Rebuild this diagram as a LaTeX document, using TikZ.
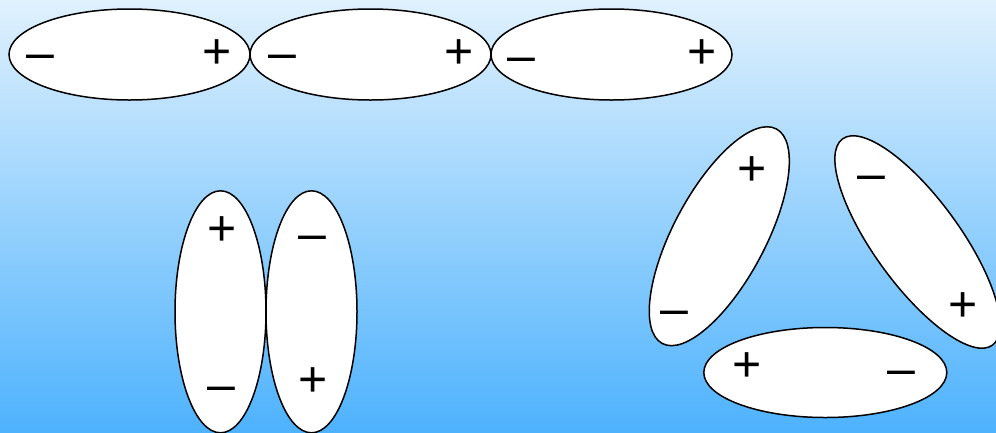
\documentclass[tikz,border=0pt]{standalone}
\usepackage{fontspec}
\setmainfont{Liberation Sans}
\usepackage{tikz}
\usetikzlibrary{positioning,shapes.geometric}

\definecolor{skytop}{RGB}{224,241,253}
\definecolor{skybottom}{RGB}{78,178,253}

\begin{document}
\begin{tikzpicture}[
  x=1pt, y=-1pt,
  every node/.style={font=\fontsize{50}{60}\selectfont},
  dipole/.style={draw, ellipse, fill=white, line width=1.5pt, inner sep=0pt, outer sep=0pt},
  flat/.style={dipole, minimum width=241pt, minimum height=91pt},
  tall/.style={dipole, minimum width=91pt, minimum height=242pt},
  plussign/.style={inner sep=0pt, text height=35.3pt, text depth=0pt},
  minussign/.style={inner sep=0pt, text height=24.8pt, text depth=0pt}
]
\useasboundingbox (0,0) rectangle (996,432);
\clip (0,0) rectangle (996,432);
\shade[top color=skytop, bottom color=skybottom] (0,0) rectangle (996,432);

% head-to-tail row
\node[flat] (rowA) at (129.5,54.5) {};
\node[flat, right=0pt of rowA] (rowB) {};
\node[flat, right=0pt of rowB] (rowC) {};
\node[minussign] (rowAneg) at (40,57) {–};
\node[plussign] (rowApos) at (217.5,51) {+};
\node[minussign] (rowBneg) at (282,57) {–};
\node[plussign] (rowBpos) at (459,51) {+};
\node[minussign] (rowCneg) at (521,60) {–};
\node[plussign] (rowCpos) at (702,51) {+};

% antiparallel pair
\node[tall] (pairL) at (220.5,311.8) {};
\node[tall, right=0pt of pairL] (pairR) {};
\node[plussign] (pairLpos) at (222.3,228.3) {+};
\node[minussign] (pairLneg) at (221.8,389) {–};
\node[minussign] (pairRneg) at (312.3,237.7) {–};
\node[plussign] (pairRpos) at (313.2,379.2) {+};

% ring of three
\node[dipole, minimum width=243pt, minimum height=92pt, rotate=62] (ringL) at (719.3,236.2) {};
\node[dipole, minimum width=255pt, minimum height=86pt, rotate=-54] (ringR) at (917.5,242) {};
\node[flat, minimum width=243pt, minimum height=90pt] (ringB) at (825.3,372.5) {};
\node[plussign] (ringLpos) at (751.7,168.3) {+};
\node[minussign] (ringLneg) at (674.8,313.3) {–};
\node[minussign] (ringRneg) at (871.5,177.7) {–};
\node[plussign] (ringRpos) at (963.3,303.7) {+};
\node[plussign] (ringBpos) at (747,364) {+};
\node[minussign] (ringBneg) at (901.3,373.3) {–};
\end{tikzpicture}
\end{document}
